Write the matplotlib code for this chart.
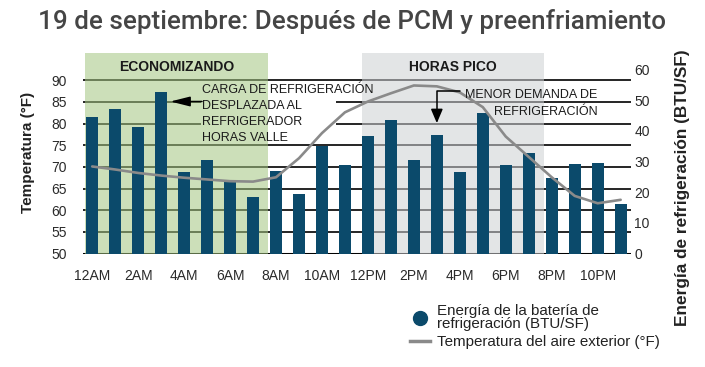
import matplotlib
matplotlib.use("Agg")
import matplotlib.pyplot as plt
import matplotlib.transforms as mtransforms
from matplotlib.lines import Line2D
from matplotlib.patches import Rectangle
import numpy as np

plt.rcParams['font.family'] = ['Liberation Sans', 'DejaVu Sans']

# data
hours = np.arange(24)
tick_labels = ['12AM', '2AM', '4AM', '6AM', '8AM', '10AM',
               '12PM', '2PM', '4PM', '6PM', '8PM', '10PM']
energy = [44.5, 47.1, 41.2, 52.7, 26.6, 30.5, 23.2, 18.5, 26.9, 19.5, 35.1, 28.9,
          38.3, 43.5, 30.5, 38.6, 26.6, 45.8, 28.9, 32.8, 24.6, 29.2, 29.5, 16.1]
temp = [70.1, 69.4, 68.6, 68.0, 67.5, 67.1, 66.7, 66.6, 67.6, 72.0, 77.8, 82.6,
        85.1, 87.0, 88.8, 88.6, 87.2, 83.8, 77.0, 72.3, 67.6, 63.3, 61.6, 62.4]
periods = ['ECONOMIZANDO', 'HORAS PICO']
period_spans = [(-0.33, 7.65), (11.73, 19.67)]
period_colors = ['#a3c680', '#cdd0d2']

bar_color = '#0b4a6b'
line_color = '#8a8a8a'
text_color = '#1a1a1a'

fig = plt.figure(figsize=(7.05, 3.67), dpi=100)
ax = fig.add_axes([83 / 705, 113.5 / 367, 548 / 705, 200.5 / 367])
ax.set_xlim(-0.4, 23.45)
ax.set_ylim(50, 96.3)
ax.set_yticks(np.arange(50, 91, 5))
ax.set_xticks(hours[::2])
ax.set_xticklabels(tick_labels)
for s in ax.spines.values():
    s.set_visible(False)
ax.set_axisbelow(True)
ax.yaxis.grid(True, color='black', lw=1.2, zorder=0.5)
ax.axhline(50, color='black', lw=2.2, zorder=0.6)
ax.tick_params(axis='both', length=0, labelsize=10, colors='#2a2a2a')
ax.tick_params(axis='y', pad=11.5)
ax.tick_params(axis='x', pad=11)

# white mask behind the first note so the grid does not run through it
ax.add_patch(Rectangle((4.75, 75.6), 5.85, 13.7, facecolor='white',
                       edgecolor='none', zorder=0.8))

# shaded periods
trans = mtransforms.blended_transform_factory(ax.transData, ax.transAxes)
for name, (x0, x1), c in zip(periods, period_spans, period_colors):
    ax.axvspan(x0, x1, color=c, alpha=0.55, lw=0, zorder=1)
    ax.text((x0 + x1) / 2, 0.932, name, transform=trans, ha='center',
            va='center', fontsize=10, fontweight='bold', color=text_color,
            zorder=3)

# bars on the right axis
ax2 = ax.twinx()
ax2.bar(hours, energy, width=0.51, color=bar_color, zorder=2)
ax2.set_ylim(0, 65.4)
ax2.set_yticks(np.arange(0, 61, 10))
for s in ax2.spines.values():
    s.set_visible(False)
ax2.tick_params(axis='y', length=0, labelsize=10, colors='#2a2a2a', pad=2.5)

# top layer: temperature line and notes (left scale)
ax3 = ax.twinx()
ax3.set_ylim(ax.get_ylim())
ax3.set_axis_off()
ax3.plot(hours, temp, color=line_color, lw=1.9, solid_capstyle='round')

ax3.text(4.8, 89.2, 'CARGA DE REFRIGERACIÓN\nDESPLAZADA AL\nREFRIGERADOR\nHORAS VALLE',
         ha='left', va='top', fontsize=9, color=text_color, linespacing=1.47)
ax3.annotate('', xy=(3.4, 85.1), xytext=(4.78, 85.1),
             arrowprops=dict(arrowstyle='-|>,head_length=1.2,head_width=0.3',
                             color='black', lw=1.1, shrinkA=0, shrinkB=0,
                             mutation_scale=10))

ax3.text(22.0, 88.0, 'MENOR DEMANDA DE\nREFRIGERACIÓN', ha='right', va='top',
         multialignment='right', fontsize=9, color=text_color, linespacing=1.55)
ax3.annotate('', xy=(15.0, 80.1), xytext=(16.0, 87.5),
             arrowprops=dict(arrowstyle='-|>,head_length=0.85,head_width=0.36',
                             color='black', lw=1.1, shrinkA=0, shrinkB=0,
                             mutation_scale=10,
                             connectionstyle='angle,angleA=0,angleB=90,rad=0'))

# titles and axis labels
fig.text(38 / 705, 1 - 22 / 367, '19 de septiembre: Después de PCM y preenfriamiento',
         ha='left', va='center', fontsize=18.7, color='#454545',
         family=['Roboto', 'DejaVu Sans'], fontweight='medium')
fig.text(28 / 705, 1 - 152 / 367, 'Temperatura (°F)', rotation=90,
         ha='center', va='center', fontsize=11, fontweight='bold', color='#222222')
fig.text(682 / 705, 1 - 188 / 367, 'Energía de refrigeración (BTU/SF)',
         rotation=90, ha='center', va='center', fontsize=12.4,
         fontweight='bold', color='#222222')

# legend
handles = [Line2D([], [], marker='o', ls='none', color=bar_color, markersize=10),
           Line2D([], [], color=line_color, lw=2.5)]
labels = ['Energía de la batería de\nrefrigeración (BTU/SF)',
          'Temperatura del aire exterior (°F)']
leg = fig.legend(handles, labels, loc='upper left',
                 bbox_to_anchor=(410 / 705, 1 - 304 / 367), frameon=False,
                 fontsize=10.9, borderpad=0, borderaxespad=0,
                 handlelength=1.3, handletextpad=0.5, labelspacing=0.3)
for t in leg.get_texts():
    t.set_linespacing(0.9)
    t.set_color('#222222')

fig.savefig('out.png', dpi=100)
